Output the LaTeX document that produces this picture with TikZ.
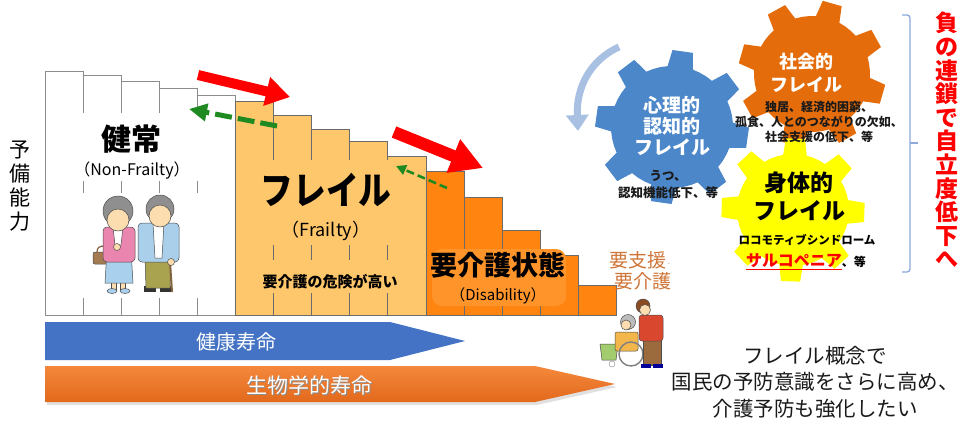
\documentclass[tikz,border=0pt]{standalone}
\usepackage{fontspec}
\usepackage{graphicx}
\setmainfont{Noto Sans CJK JP}
\usetikzlibrary{arrows.meta}

\definecolor{gridgrey}{HTML}{8C8C8C}
\definecolor{bargrey}{HTML}{6B6B6B}
\definecolor{frailfill}{HTML}{FFC76B}
\definecolor{disfill}{HTML}{FF8410}
\definecolor{disglow}{HTML}{FF952A}
\definecolor{lifeblue}{HTML}{4472C4}
\definecolor{lifeorangetop}{HTML}{F4883C}
\definecolor{lifeorangebot}{HTML}{E2691C}
\definecolor{gearblue}{HTML}{4C87C9}
\definecolor{gearorange}{HTML}{E46C0A}
\definecolor{gearyellow}{HTML}{FFFF00}
\definecolor{chainred}{HTML}{FF0000}
\definecolor{backgreen}{HTML}{1F8A22}
\definecolor{supportbrown}{HTML}{CF7436}
\definecolor{bracketblue}{HTML}{8EA9DB}
\definecolor{cycleblue}{HTML}{A8C1E3}
\definecolor{skin}{HTML}{FCDDB0}
\definecolor{hairgrey}{HTML}{8F8F8F}
\definecolor{cardpink}{HTML}{E985AE}
\definecolor{skirtblue}{HTML}{A9D1EE}
\definecolor{jacketblue}{HTML}{A9CFEA}
\definecolor{pantsolive}{HTML}{A9A24E}
\definecolor{bagbrown}{HTML}{A47A52}
\definecolor{shirtred}{HTML}{D9472F}
\definecolor{pantsbrown}{HTML}{9B6B3D}
\definecolor{blanketgreen}{HTML}{A3CC6E}
\definecolor{seatorange}{HTML}{F2B64A}
\definecolor{hairbrown}{HTML}{8A4B22}
\definecolor{textdark}{HTML}{1A1A1A}

\tikzset{
  healthybar/.style={draw=gridgrey, fill=white, line width=0.9pt},
  frailbar/.style={draw=bargrey, fill=frailfill, line width=0.9pt},
  disbar/.style={draw=bargrey, fill=disfill, line width=0.9pt},
  jtext/.style={inner sep=0pt, font=\fontsize{#1}{#1}\selectfont},
  jbold/.style={inner sep=0pt, font=\bfseries\fontsize{#1}{#1}\selectfont},
  declinearrow/.style={draw=chainred, line width=#1},
  recoverarrow/.style={draw=backgreen, line width=#1},
  clipart/.style={draw=black!70, line width=0.5pt},
  pics/cog/.style n args={4}{code={
    % #1 teeth, #2 root radius, #3 tip radius, #4 phase angle
    \pgfmathsetmacro\cogs{360/#1}
    \path[pic actions] ({#4-0.27*\cogs}:#2)
      \foreach \k in {1,...,#1}{
        -- ({#4+(\k-1)*\cogs-0.17*\cogs}:#3)
        -- ({#4+(\k-1)*\cogs+0.17*\cogs}:#3)
        -- ({#4+(\k-1)*\cogs+0.27*\cogs}:#2)
        -- ({#4+(\k-1)*\cogs+0.42*\cogs}:#2)
        -- ({#4+(\k-1)*\cogs+0.58*\cogs}:#2)
        -- ({#4+(\k-1)*\cogs+0.73*\cogs}:#2)
      } -- cycle;
  }},
}

\begin{document}
\begin{tikzpicture}[x=1pt,y=-1pt]
\fill[white] (0,0) rectangle (961,423);
\useasboundingbox (0,0) rectangle (961,423);

% ---- staircase of reserve capacity ----
\foreach \i/\t in {0/71.7,1/75.3,2/81.7,3/88.7,4/95.3}
  \draw[healthybar] ({45+38.1*\i},\t) rectangle ({45+38.1*(\i+1)},315);
\foreach \i/\t in {5/101.7,6/115.7,7/129,8/141,9/156.7}
  \draw[frailbar] ({45+38.1*\i},\t) rectangle ({45+38.1*(\i+1)},315);
\foreach \i/\t in {10/171.7,11/197.3,12/230,13/255,14/285}
  \draw[disbar] ({45+38.1*\i},\t) rectangle ({45+38.1*(\i+1)},315);

% panels behind the labels
\fill[white] (72,113) rectangle (206,181);
\fill[white] (76,193) rectangle (204,298);
\fill[frailfill] (262,160) rectangle (410,245);
\fill[frailfill] (262,260) rectangle (410,293);
\fill[disglow, rounded corners=10pt] (432,249) rectangle (566,306);

% ---- elderly couple ----
\fill[bagbrown, clipart, rounded corners=2pt] (93,252) rectangle (111,264);
\draw[bagbrown!80!black, line width=1.2pt] (97,252) .. controls (97,244) and (107,244) .. (107,252);
\fill[skin, clipart] (111,281) rectangle (116,290);
\fill[skin, clipart] (120,281) rectangle (125,290);
\fill[skirtblue, clipart] (107,250) -- (131,250) -- (133,283) -- (105,283) -- cycle;
\fill[cardpink, clipart, rounded corners=4pt] (103,227) rectangle (135,262);
\fill[white, clipart] (113,227) -- (123,227) -- (121,245) -- (115,245) -- cycle;
\fill[skin, clipart] (117,247) circle (3.5);
\fill[skirtblue, clipart] (112,291) ellipse (5 and 2.5);
\fill[skirtblue, clipart] (125,291) ellipse (5 and 2.5);
\fill[hairgrey, clipart] (118,211) circle (15);
\fill[skin, clipart] (118,220) circle (11);

\fill[black!80] (144,286) rectangle (156,292);
\fill[black!80] (160,286) rectangle (172,292);
\fill[pantsolive, clipart] (145,257) -- (171,257) -- (170,288) -- (146,288) -- cycle;
\fill[jacketblue, clipart, rounded corners=4pt] (138,223) rectangle (179,262);
\fill[white, clipart] (153,223) -- (164,223) -- (162,258) -- (155,258) -- cycle;
\draw[bagbrown!80!black, line width=2pt] (170,262) -- (172,292);
\fill[skin, clipart] (171,262) circle (3.5);
\fill[hairgrey, clipart] (160,209) circle (14);
\fill[skin, clipart] (160,216) circle (11);

% ---- labels on the staircase ----
\node[jtext=21, align=center, font=\fontsize{21}{24}\selectfont] (reserve) at (20,186) {予\\備\\能\\力};
\node[jbold=30] (healthy) at (131,139) {健常};
\node[jtext=16] (healthyen) at (132,171) {（Non-Frailty）};
\node[jbold=38] (frail) at (326,190) {\scalebox{0.86}[1]{フレイル}};
\node[jtext=18] (frailen) at (326,231) {（Frailty）};
\node[jbold=15] (frailrisk) at (330,282) {要介護の危険が高い};
\node[jbold=27] (disabled) at (498,265) {要介護状態};
\node[jtext=15] (disableden) at (498,296) {（Disability）};
\node[jtext=19, text=supportbrown, anchor=east] (support1) at (672,260) {要支援{\color{gray!50}\fontsize{10}{10}\selectfont ·}};
\node[jtext=19, text=supportbrown, anchor=east] (support2) at (672,281) {要介護};

% ---- decline and recovery arrows ----
\coordinate (d1s) at (198,75);  \coordinate (d1e) at (290,97);
\coordinate (d2s) at (394,132); \coordinate (d2e) at (483,168);
\coordinate (g1s) at (277,126); \coordinate (g1e) at (189,109);
\coordinate (g2s) at (447,188); \coordinate (g2e) at (396,166);
\draw[declinearrow=10pt, -{Triangle[length=24pt,width=28pt]}] (d1s) -- (d1e);
\draw[declinearrow=12pt, -{Triangle[length=32pt,width=34pt]}] (d2s) -- (d2e);
\draw[recoverarrow=5pt, dash pattern=on 17pt off 6pt, -{Triangle[length=18pt,width=17pt]}] (g1s) -- (g1e);
\draw[recoverarrow=2.6pt, dash pattern=on 8pt off 4pt, -{Triangle[length=10pt,width=10pt]}] (g2s) -- (g2e);

% ---- life expectancy arrows ----
\fill[lifeblue] (45,322) -- (390,322) -- (465,341) -- (390,360) -- (45,360) -- cycle;
\node[jtext=20, text=white] (healthylife) at (236,342) {健康寿命};
\fill[black!12] (47,369) -- (537,369) -- (617,387) -- (537,405) -- (47,405) -- cycle;
\shade[top color=lifeorangetop, bottom color=lifeorangebot] (45,366) -- (535,366) -- (615,384) -- (535,402) -- (45,402) -- cycle;
\node[jtext=21, text=black!45] at (310.8,386.8) {生物学的寿命};
\node[jtext=21, text=white] (biolife) at (309,385) {生物学的寿命};

% ---- wheelchair and carer ----
\fill[blanketgreen, clipart] (600,344) -- (618,344) -- (616,360) -- (602,360) -- cycle;
\fill[seatorange, clipart, rounded corners=2pt] (615,332) rectangle (638,351);
\draw[gray, line width=1.4pt] (631,354) circle (12);
\fill[white, draw=gray] (612,364) circle (3);
\fill[hairgrey!60, clipart] (628,322) circle (7.5);
\fill[skin, clipart] (626,325) circle (5);
\fill[pantsbrown, clipart] (643,339) rectangle (661,365);
\fill[blue!60!black] (641,364) rectangle (651,368);
\fill[blue!60!black] (653,364) rectangle (663,368);
\fill[shirtred, clipart, rounded corners=3pt] (639,315) rectangle (663,341);
\fill[hairbrown, clipart] (643,306) circle (7);
\fill[skin, clipart] (645,310) circle (5.5);

% ---- gears of frailty ----
\draw[cycleblue, line width=7pt, -{Triangle[length=16pt,width=22pt]}]
  (619,47) .. controls (590,60) and (576,88) .. (578,131);
\pic[fill=gearblue] at (672,127) {cog={8}{61}{77}{8}};
\pic[fill=gearorange] at (812,74) {cog={8}{58}{74}{16}};
\pic[fill=gearyellow] at (793,210) {cog={8}{56}{72}{2}};

\node[align=center, inner sep=0pt, text=white, font=\bfseries\fontsize{19}{21}\selectfont] (psych) at (672,126) {心理的\\認知的\\フレイル};
\node[align=center, inner sep=0pt, text=textdark, font=\bfseries\fontsize{12.5}{17}\selectfont] (psychex) at (668,184) {うつ、\\認知機能低下、等};
\node[align=center, inner sep=0pt, text=white, font=\bfseries\fontsize{18}{23}\selectfont] (social) at (806,73) {社会的\\フレイル};
\node[align=center, inner sep=0pt, text=textdark, font=\bfseries\fontsize{12}{15}\selectfont] (socialex) at (819,122) {独居、経済的困窮、\\孤食、人とのつながりの欠如、\\社会支援の低下、等};
\node[align=center, inner sep=0pt, text=black, font=\bfseries\fontsize{23}{28}\selectfont] (physical) at (799,196) {身体的\\フレイル};
\node[jbold=11.5] (locomo) at (807,240) {ロコモティブシンドローム};
\node[jbold=12] (sarco) at (806,262) {{\color{chainred}\fontsize{16}{16}\selectfont\underline{サルコペニア}}、等};

% ---- bracket and chain label ----
\coordinate (bt) at (902,15); \coordinate (bb) at (902,272); \coordinate (bm) at (918,143);
\draw[bracketblue, line width=1.3pt, rounded corners=3pt] (bt) -- (910,15) -- (910,272) -- (bb);
\draw[bracketblue, line width=1.3pt] (910,143) -- (bm);
\node[align=center, inner sep=0pt, text=chainred, font=\bfseries\fontsize{23}{23.6}\selectfont] (chain) at (947,140) {負\\の\\連\\鎖\\で\\自\\立\\度\\低\\下\\へ};

% ---- message ----
\node[align=center, inner sep=0pt, text=textdark, font=\fontsize{20.5}{26.5}\selectfont] (message) at (815,382) {フレイル概念で\\国民の予防意識をさらに高め、\\介護予防も強化したい};
\end{tikzpicture}
\end{document}
